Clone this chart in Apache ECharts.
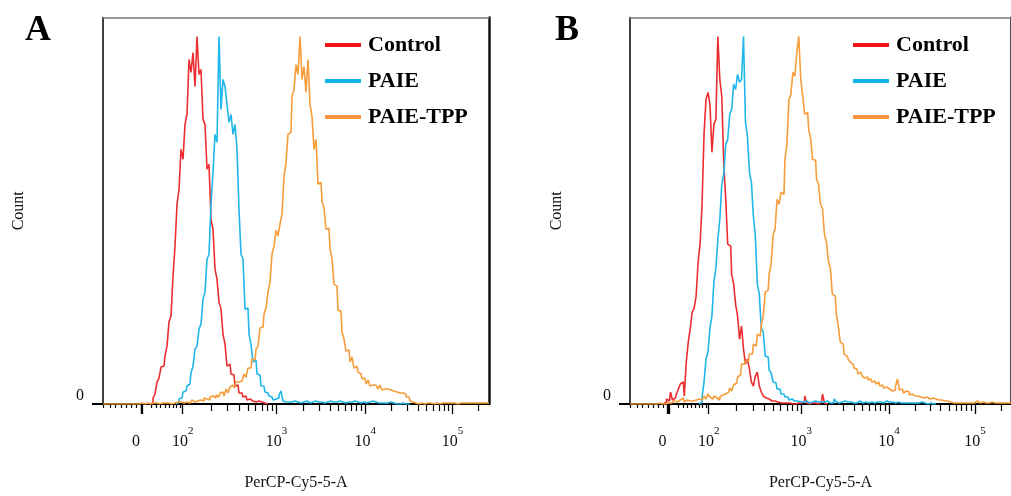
<!DOCTYPE html>
<html>
<head>
<meta charset="utf-8">
<script src="https://cdn.jsdelivr.net/npm/echarts@6/dist/echarts.min.js"></script>
<style>
html,body{margin:0;padding:0;background:#fff;}
#chart{width:1011px;height:496px;}
</style>
</head>
<body>
<div id="chart"></div>
<script>
// ---- data (display channel units along the biexponential axis; bin width 2) ----
const BIN = 2;
const seriesNames = ['Control', 'PAIE', 'PAIE-TPP'];

// Panel A
const controlA_start = 47;
const controlA = [0,1,6,10,22,26,37,38,48,58, 82,88,128,158,200,215,255,245,280,290,
  345,332,352,318,368,330,335,285,280,235, 240,185,175,135,125,102,95,70,60,38,
  40,30,29,18,19,11,11,7,8,4, 5,3,4,2,3,1,2,1,1,0];
const paieA_start = 73;
const paieA = [0,2,5,6,12,13,18,20,31,38, 55,58,75,80,105,112,145,150,200,232,
  270,262,368,295,325,318,300,282,290,270, 280,255,195,150,145,95,96,70,60,42,
  44,30,29,18,18,12,11,8,7,4, 5,6,9,13,3,2,
  2,1,2,3,1,2,1,1,2,3, 2,1,2,1,3,2,1,2,1,1, 2,3,1,2,2,1,3,2,1,1,
  2,1,2,3,1,2,1,1,2,1, 1,2,3,1,2,1,2,1,1,2, 1,2,1,1,0,1,0,1,0,0, 0,0];
const tppA_start = 0;
const tppA = [0,0,0,0,0,0,0,0,0,0, 0,0,0,0,0,0,0,0,0,1, 0,0,1,0,0,1,0,1,0,0, 1,1,0,1,0,1,1,2,1,
  2,1,3,2,1,3,4,2,3,5, 4,3,6,5,4,7,8,6,9,7, 11,12,8,15,11,17,19,16,22,22,
  23,25,30,27,36,36,45,44,55,58, 76,77,90,96,112,122,150,158,174,168,
  180,190,228,242,270,272,308,315,340,330, 368,325,338,312,345,300,288,255,265,220,
  222,203,196,175,176,155,146,120,118,94, 93,72,65,53,54,42,47,36,38,32,
  30,25,26,20,24,18,19,19,18,15, 19,14,15,15,14,14,13,12,12,11,
  11,11,10,7,7,3,2,
  1,1,0,1,1,0,1,1,1,0, 1,1,0,1,1,1,0,1,1,1, 1,0,1,1,1,0,1,1,3,1, 1,1,1,1,1,1,1,1];

// Panel B
const controlB_start = 34;
const controlB = [0,2,5,3,12,4,6,10,15,20, 22,8,42,62,75,92,96,108,142,160,
  200,270,305,312,300,252,280,285,368,325, 308,240,205,160,158,130,120,100,88,65,
  78,55,40,45,35,22,18,28,32,18, 12,8,6,5,4,3,3,2,2,1,
  2,1,1,0,1,0,1,0,1,0, 1,3,8,1,0,1,0,1,0,1, 2,10,1,0];
const paieB_start = 70;
const paieB = [0,2,7,22,45,52,76,88,122,136, 165,185,220,230,260,265,290,295,320,315,
  330,322,325,368,282,268,232,222,188,168, 120,110,76,72,48,47,34,31,22,21,
  15,15,10,10,7,7,4,5,3,
  2,3,2,1,2,3,2,1,2,1, 3,2,1,2,2,1,3,1,2,1, 5,2,1,2,1,3,2,1,2,1,
  2,1,3,2,1,2,1,1,2,3, 1,2,1,2,1,1,3,2,1,2, 1,1,2,1,2,1,1,2,1,1,
  2,1,1,1,2,1,1,0,1,0, 0,0];
const tppB_start = 0;
const tppB = [0,0,0,0,0,0,0,0,0,0, 0,1,0,0,0,1,0,1,0,1,
  2,1,3,1,2,4,3,6,2,4, 3,5,3,4,2,5,4,6,8,5, 10,7,5,8,6,4,7,9,10,8,
  12,16,13,19,21,27,29,40,40,43, 43,50,50,60,58,70,68,80,88,112,
  114,130,140,170,175,205,200,212,210,245, 260,305,310,332,328,352,368,325,308,290,
  292,275,266,245,244,225,220,200,196,170, 162,143,136,110,108,90,78,62,60,50,
  48,45,42,40,36,35,30,32,28,26, 27,24,25,22,23,20,22,18,19,16,
  17,15,16,13,14,18,25,14,15,11, 13,12,9,10,8,9,8,7,9,6,
  7,6,5,6,4,5,4,3,4,3, 2,3,2,1,
  1,1,2,1,1,3,1,1,2,1, 1,1,3,1,1,2,1,1,1,2, 1,1,1,1,1,1,1,1,1,1];

// axis ticks (display channel positions) and labels
const axisMax = 386;
const countMax = 387;
const majorTicks = [37.9, 38.7, 39.5, 79.7, 173.5, 262.3, 349.5];
const minorTicks = [107.9,124.5,136.2,145.3,152.7,159,164.4,169.2,
  200.2,215.9,227,235.6,242.6,248.5,253.7,258.2,
  288.5,303.9,314.8,323.2,330.1,336,341,345.5, 375.7];
const nearZeroTicks = [0.3,7,12.7,18.7,23.7,28.7,33.7,48.7,53.7,57.7,62,66,70.3,73.7,77];
const labelValues = [33, 79.7, 173.5, 262.3, 349.5];
const labelBase = ['0', '10', '10', '10', '10'];
const labelExp = ['', '2', '3', '4', '5'];

// ---- chart ----
const FONT = 'Liberation Serif';
const colors = ['#ec2d30', '#1fb6ea', '#f69d3c'];
const legendColors = ['#f41414', '#12b3ee', '#f7963f'];

function bins(start, values) {
  return values.map((v, i) => [start + i * BIN, v]);
}

function fmtLabel(v) {
  let idx = labelValues.findIndex(x => Math.abs(x - v) < 0.01);
  if (idx < 0) return '';
  return labelExp[idx] ? '{b|' + labelBase[idx] + '}{s|' + labelExp[idx] + '}' : '{b|' + labelBase[idx] + '}';
}

function xAxes(g) {
  const common = {gridIndex: g, type: 'value', min: 0, max: axisMax, splitLine: {show: false}};
  return [
    Object.assign({}, common, {
      position: 'bottom',
      name: 'PerCP-Cy5-5-A', nameLocation: 'middle', nameGap: 71,
      nameTextStyle: {fontFamily: FONT, fontSize: 16, color: '#111'},
      axisLine: {show: true, onZero: false, lineStyle: {color: '#000', width: 2}},
      axisTick: {show: true, customValues: majorTicks, length: 10, lineStyle: {color: '#000', width: 1.3}},
      axisLabel: {show: true, customValues: labelValues, margin: 22, formatter: fmtLabel,
        rich: {
          b: {fontFamily: FONT, fontSize: 16, color: '#111', lineHeight: 24, verticalAlign: 'bottom'},
          s: {fontFamily: FONT, fontSize: 11, color: '#111', lineHeight: 8, verticalAlign: 'top'}
        }}
    }),
    Object.assign({}, common, {
      position: 'bottom',
      axisLine: {show: false, onZero: false},
      axisTick: {show: true, customValues: minorTicks, length: 7, lineStyle: {color: '#000', width: 1.2}},
      axisLabel: {show: false}
    }),
    Object.assign({}, common, {
      position: 'bottom',
      axisLine: {show: false, onZero: false},
      axisTick: {show: true, customValues: nearZeroTicks, length: 4, lineStyle: {color: '#000', width: 1.2}},
      axisLabel: {show: false}
    }),
    Object.assign({}, common, {
      position: 'top',
      axisLine: {show: true, onZero: false, lineStyle: {color: '#777', width: 1.5}},
      axisTick: {show: false}, axisLabel: {show: false}
    })
  ];
}

function yAxes(g, gap) {
  return [
    {gridIndex: g, type: 'value', min: 0, max: countMax, position: 'left',
      name: 'Count', nameLocation: 'middle', nameGap: gap, nameRotate: 90,
      nameTextStyle: {fontFamily: FONT, fontSize: 16, color: '#111'},
      splitLine: {show: false},
      axisLine: {show: true, onZero: false, lineStyle: {color: '#000', width: 1.5}},
      axisTick: {show: true, customValues: [0], length: 11, lineStyle: {color: '#000', width: 2}},
      axisLabel: {show: true, customValues: [0], margin: 19, verticalAlign: 'bottom',
        fontFamily: FONT, fontSize: 16, color: '#111'}},
    {gridIndex: g, type: 'value', min: 0, max: countMax, position: 'right',
      splitLine: {show: false},
      axisLine: {show: true, onZero: false, lineStyle: {color: '#111', width: 2.5}},
      axisTick: {show: false}, axisLabel: {show: false}}
  ];
}

function lineSeries(name, idx, data, xi, yi) {
  return {
    name: name, type: 'line', step: 'middle', data: data,
    xAxisIndex: xi, yAxisIndex: yi, showSymbol: false, symbol: 'none',
    lineStyle: {color: colors[idx], width: 1.6}, itemStyle: {color: colors[idx]},
    z: 2 + idx, clip: true, silent: true
  };
}

function legend(left) {
  return {
    orient: 'vertical', left: left, top: 29, itemGap: 14,
    icon: 'rect', itemWidth: 36, itemHeight: 4,
    data: seriesNames.map((n, i) => ({name: n, itemStyle: {color: legendColors[i]}})),
    textStyle: {fontFamily: FONT, fontWeight: 'bold', fontSize: 22, color: '#000', padding: [0, 0, 0, 2]}
  };
}

const chart = echarts.init(document.getElementById('chart'), null, {renderer: 'canvas'});
chart.setOption({
  animation: false,
  backgroundColor: '#fff',
  title: [
    {text: 'A', left: 20, top: 8, textStyle: {fontFamily: FONT, fontWeight: 'bold', fontSize: 36, color: '#000'}},
    {text: 'B', left: 550, top: 8, textStyle: {fontFamily: FONT, fontWeight: 'bold', fontSize: 36, color: '#000'}}
  ],
  legend: [legend(320), legend(848)],
  grid: [
    {left: 103, top: 17.5, width: 386, height: 387.5},
    {left: 630, top: 17.5, width: 386, height: 387.5}
  ],
  xAxis: xAxes(0).concat(xAxes(1)),
  yAxis: yAxes(0, 76).concat(yAxes(1, 65)),
  series: [
    lineSeries('Control', 0, bins(controlA_start, controlA), 0, 0),
    lineSeries('PAIE', 1, bins(paieA_start, paieA), 0, 0),
    lineSeries('PAIE-TPP', 2, bins(tppA_start, tppA), 0, 0),
    lineSeries('Control', 0, bins(controlB_start, controlB), 4, 2),
    lineSeries('PAIE', 1, bins(paieB_start, paieB), 4, 2),
    lineSeries('PAIE-TPP', 2, bins(tppB_start, tppB), 4, 2)
  ]
});
</script>
</body>
</html>
